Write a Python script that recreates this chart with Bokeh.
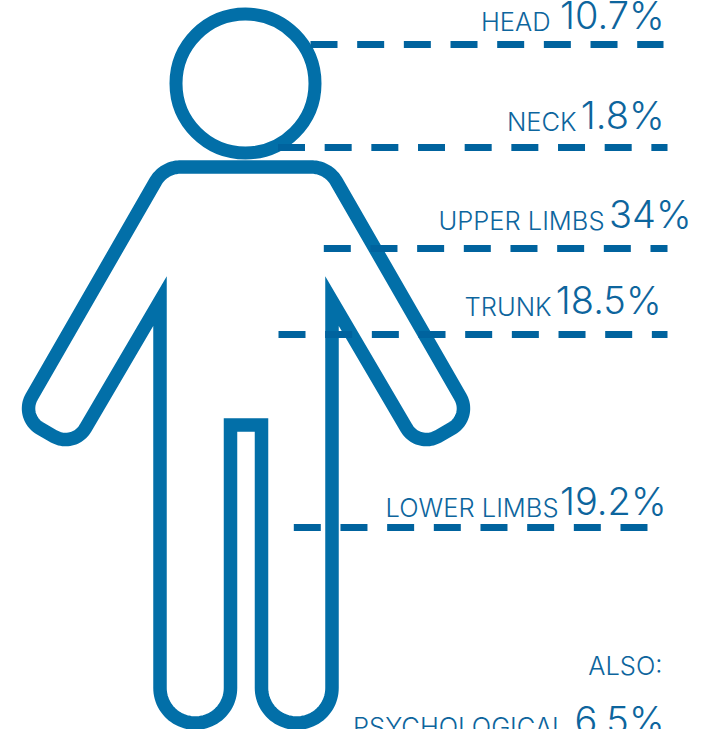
import numpy as np
from bokeh.core.properties import value
from bokeh.embed import file_html
from bokeh.models import ColumnDataSource, Range1d
from bokeh.plotting import figure
from bokeh.resources import INLINE

WIDTH, HEIGHT = 711, 729
FIGURE_COLOR = "#026fa8"
LEADER_COLOR = "#00639e"
TEXT_COLOR = "#0d659d"
FONT = "Inter Light"
PART_SIZE, SHARE_SIZE = 25.5, 38

# Body regions and their shares
parts = ["HEAD", "NECK", "UPPER LIMBS", "TRUNK", "LOWER LIMBS", "PSYCHOLOGICAL"]
shares = ["10.7%", "1.8%", "34%", "18.5%", "19.2%", "6.5%"]
share_right = [664, 664, 691, 661, 666, 664]
part_right = [550, 576, 604, 551, 558, 566]
baselines = [30, 130, 229, 315, 516, 735]

# Leader rows: level, first dash, last allowed x
leader_y = [44, 147, 248, 334, 527]
leader_start = [310, 277.5, 323.3, 278, 293.3]
leader_end = [663, 667, 667, 667, 648]
DASH, PERIOD = 27, 46.67

# Left half of the pictogram outline, from the shoulder line's middle round to
# the crotch: centre-line vertices and fillet radii
half_x = [245.5, 163.4, 19.65, 73.4, 159.5, 159.5, 230, 230, 245.5]
half_y = [166.5, 166.5, 416.4, 447.4, 300.7, 722.5, 722.5, 424.5, 424.5]
half_r = [0, 29, 23, 23, 0, 35, 35, 0, 0]
AXIS = 245.5


def fillet(xs, ys, rs):
    """Polyline through the vertices, with a circular arc at each rounded one."""
    pts = np.column_stack([xs, ys]).astype(float)
    out = []
    for i, (q, r) in enumerate(zip(pts, rs)):
        if r == 0:
            out.append(q)
            continue
        a = pts[i - 1] - q
        b = pts[i + 1] - q
        a /= np.linalg.norm(a)
        b /= np.linalg.norm(b)
        half = np.arccos(np.clip(a @ b, -1, 1)) / 2
        t = r / np.tan(half)
        bis = (a + b) / np.linalg.norm(a + b)
        c = q + bis * r / np.sin(half)
        s, e = q + a * t - c, q + b * t - c
        a0 = np.arctan2(s[1], s[0])
        a1 = np.arctan2(e[1], e[0])
        d = (a1 - a0 + np.pi) % (2 * np.pi) - np.pi
        for u in np.linspace(0, 1, 24):
            out.append(c + r * np.array([np.cos(a0 + d * u), np.sin(a0 + d * u)]))
    return np.array(out)


left = fillet(half_x, half_y, half_r)
right = left[::-1].copy()
right[:, 0] = 2 * AXIS - right[:, 0]
outline_x = list(left[:, 0]) + list(right[:, 0])
outline_y = list(left[:, 1]) + list(right[:, 1])

p = figure(
    width=WIDTH, height=HEIGHT, output_backend="svg", toolbar_location=None,
    x_range=Range1d(0, WIDTH), y_range=Range1d(HEIGHT, 0),
    min_border=0, outline_line_color=None, background_fill_color="white",
    border_fill_color="white",
)
p.axis.visible = False
p.grid.visible = False

# Pictogram: head ring and body outline
p.line(outline_x, outline_y, line_color=FIGURE_COLOR, line_width=13.5, line_join="miter")
p.circle(x=[245], y=[83], radius=69.5, fill_color=None,
         line_color=FIGURE_COLOR, line_width=13)

# Dashed leaders, drawn dash by dash so each row can stop short at its end
x0, x1, ys = [], [], []
for y, start, end in zip(leader_y, leader_start, leader_end):
    for x in np.arange(start, end, PERIOD):
        x0.append(x)
        x1.append(min(x + DASH, end))
        ys.append(y)
p.segment(x0, ys, x1, ys, line_color=LEADER_COLOR, line_width=7, line_cap="butt")

# Region names and shares; the renderer sets alphabetic text about 0.4 em low
src = ColumnDataSource(dict(
    part=parts, share=shares, xp=part_right, xs=share_right,
    yp=[b - 0.37 * PART_SIZE for b in baselines],
    ys=[b - 0.41 * SHARE_SIZE for b in baselines],
))
p.text("xp", "yp", text="part", source=src, text_font=value(FONT),
       text_font_size=f"{PART_SIZE}px", text_color=TEXT_COLOR,
       text_align="right", text_baseline="alphabetic")
p.text("xs", "ys", text="share", source=src, text_font=value(FONT),
       text_font_size=f"{SHARE_SIZE}px", text_color=TEXT_COLOR,
       text_align="right", text_baseline="alphabetic")
p.text([662], [674 - 0.37 * PART_SIZE], text=["ALSO:"], text_font=value(FONT),
       text_font_size=f"{PART_SIZE}px", text_color=TEXT_COLOR,
       text_align="right", text_baseline="alphabetic")

open("out.html", "w").write(file_html(p, INLINE))
